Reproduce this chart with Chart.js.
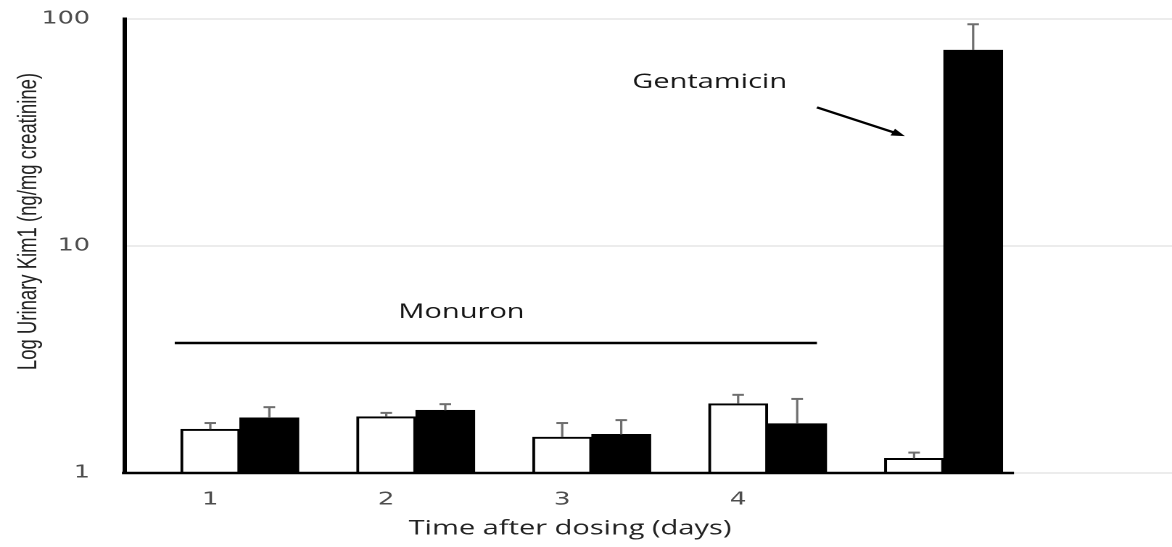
<!DOCTYPE html>
<html><head><meta charset="utf-8">
<script src="https://cdn.jsdelivr.net/npm/chart.js@4/dist/chart.umd.min.js"></script>
<style>html,body{margin:0;padding:0;background:#fff;overflow:hidden}
#c{display:block}</style>
</head><body>
<canvas id="c" width="808" height="547" style="width:1172px;height:547px"></canvas>
<script>
// ---- data ----
const groupPositions = [1, 2, 3, 4, 5];
const dayLabels = ['1', '2', '3', '4', ''];
const controlMeans = [1.56, 1.77, 1.44, 2.02, 1.16];
const controlErrors = [0.10, 0.07, 0.22, 0.19, 0.07];
const treatedMeans = [1.75, 1.89, 1.48, 1.65, 73.0];
const treatedErrors = [0.20, 0.12, 0.23, 0.47, 21.8];
const yTickValues = [1, 10, 100];
const xTickValues = [1, 2, 3, 4];
const monuronLineX = [0.63, 4.28];
const monuronLineY = [3.74, 3.74];
const baselineX = [0.33, 5.40];
const baselineY = [1, 1];
const annotationTexts = ['Monuron', 'Gentamicin'];
const annotationX = [2.26, 3.67];
const annotationY = [5.1, 52.5];
const arrowX = [4.28, 4.78];
const arrowY = [40.8, 30.5];
const yTitle = 'Log Urinary Kim1 (ng/mg creatinine)';
const xTitle = 'Time after dosing (days)';

const BAR_W = 40.7;

const errorBarPlugin = {
  id: 'errorBars',
  afterDatasetsDraw(chart) {
    const ctx = chart.ctx, ys = chart.scales.y;
    chart.data.datasets.forEach((ds, di) => {
      if (!ds.errors) return;
      const meta = chart.getDatasetMeta(di);
      meta.data.forEach((bar, i) => {
        const top = ys.getPixelForValue(ds.data[i].y + ds.errors[i]);
        ctx.save();
        ctx.strokeStyle = '#6e6e6e';
        ctx.lineWidth = 1.6;
        ctx.beginPath(); ctx.moveTo(bar.x, bar.y); ctx.lineTo(bar.x, top); ctx.stroke();
        ctx.lineWidth = 2;
        ctx.beginPath(); ctx.moveTo(bar.x - 4, top); ctx.lineTo(bar.x + 4, top); ctx.stroke();
        ctx.restore();
      });
    });
  }
};

const annotationPlugin = {
  id: 'annots',
  afterDraw(chart) {
    const ctx = chart.ctx, xs = chart.scales.x, ys = chart.scales.y;
    ctx.save();
    ctx.fillStyle = '#151515';
    ctx.font = '20px "Open Sans"';
    ctx.textAlign = 'center';
    ctx.textBaseline = 'middle';
    annotationTexts.forEach((t, i) => {
      ctx.fillText(t, xs.getPixelForValue(annotationX[i]), ys.getPixelForValue(annotationY[i]));
    });
    const x0 = xs.getPixelForValue(arrowX[0]), y0 = ys.getPixelForValue(arrowY[0]);
    const x1 = xs.getPixelForValue(arrowX[1]), y1 = ys.getPixelForValue(arrowY[1]);
    const ang = Math.atan2(y1 - y0, x1 - x0);
    const hl = 10;
    ctx.strokeStyle = '#000'; ctx.fillStyle = '#000'; ctx.lineWidth = 2.2;
    ctx.beginPath();
    ctx.moveTo(x0, y0);
    ctx.lineTo(x1 - hl * 0.8 * Math.cos(ang), y1 - hl * 0.8 * Math.sin(ang));
    ctx.stroke();
    ctx.beginPath();
    ctx.moveTo(x1, y1);
    ctx.lineTo(x1 - hl * Math.cos(ang - 0.38), y1 - hl * Math.sin(ang - 0.38));
    ctx.lineTo(x1 - hl * Math.cos(ang + 0.38), y1 - hl * Math.sin(ang + 0.38));
    ctx.closePath();
    ctx.fill();
    ctx.restore();
  }
};

function shiftTitle(scale, dx, dy) {
  if (!scale || scale._titleShifted) return;
  const orig = scale.drawTitle;
  scale.drawTitle = function () {
    const c = this.ctx; c.save(); c.translate(dx, dy); orig.apply(this, arguments); c.restore();
  };
  scale._titleShifted = true;
}
const titleShiftPlugin = {
  id: 'titleShift',
  afterLayout(chart) {
    shiftTitle(chart.scales.x, -54, 0);
    shiftTitle(chart.scales.y, 0, -24.5);
  }
};

new Chart(document.getElementById('c'), {
  data: {
    datasets: [
      {
        type: 'line', label: 'baseline', order: 0, clip: false,
        data: baselineX.map((x, i) => ({ x, y: baselineY[i] })),
        borderColor: '#000', borderWidth: 2.5, pointRadius: 0, fill: false
      },
      {
        type: 'line', label: 'Monuron', order: 0, clip: false,
        data: monuronLineX.map((x, i) => ({ x, y: monuronLineY[i] })),
        borderColor: '#000', borderWidth: 2.5, pointRadius: 0, fill: false
      },
      {
        type: 'bar', label: 'Control', order: 1,
        data: groupPositions.map((x, i) => ({ x, y: controlMeans[i] })),
        errors: controlErrors,
        backgroundColor: '#fff', borderColor: '#000', borderWidth: 2,
        barThickness: BAR_W
      },
      {
        type: 'bar', label: 'Treated', order: 1,
        data: groupPositions.map((x, i) => ({ x, y: treatedMeans[i] })),
        errors: treatedErrors,
        backgroundColor: '#000', borderColor: '#000', borderWidth: 2,
        barThickness: BAR_W
      }
    ]
  },
  options: {
    responsive: false,
    animation: false,
    devicePixelRatio: 2,
    layout: { padding: { top: 19, right: 0, left: 0, bottom: 0 } },
    plugins: { legend: { display: false }, tooltip: { enabled: false } },
    scales: {
      x: {
        type: 'linear', min: 0.346, max: 6.298, offset: false,
        afterBuildTicks: (s) => { s.ticks = xTickValues.map(v => ({ value: v })); },
        afterFit: (s) => { s.height = 74; s.paddingLeft = 0; s.paddingRight = 0; },
        grid: { display: false, drawTicks: false, offset: false },
        border: { display: false },
        ticks: {
          callback: (v) => dayLabels[groupPositions.indexOf(v)],
          labelOffset: -BAR_W / 2,
          padding: 16,
          autoSkip: false, maxRotation: 0,
          color: '#4d4d4d', font: { family: 'DejaVu Sans', size: 18 }
        },
        title: {
          display: true, text: xTitle, color: '#222',
          font: { family: 'Open Sans', size: 20 },
          padding: { top: 0, bottom: 6 }
        }
      },
      y: {
        type: 'logarithmic', min: 1, max: 100,
        afterBuildTicks: (s) => { s.ticks = yTickValues.map(v => ({ value: v })); },
        afterFit: (s) => { s.width = 86; s.paddingTop = 0; s.paddingBottom = 0; },
        grid: { color: '#d9d9d9', lineWidth: 1, drawTicks: false },
        border: { display: true, color: '#000', width: 3 },
        ticks: {
          callback: (v) => String(v),
          padding: 24,
          color: '#4d4d4d', font: { family: 'DejaVu Sans', size: 17.5 }
        },
        title: {
          display: true, text: yTitle, color: '#222',
          font: { family: 'Liberation Sans', size: 18.5 },
          padding: { top: 9, bottom: 0 }
        }
      }
    }
  },
  plugins: [errorBarPlugin, annotationPlugin, titleShiftPlugin]
});
</script>
</body></html>
